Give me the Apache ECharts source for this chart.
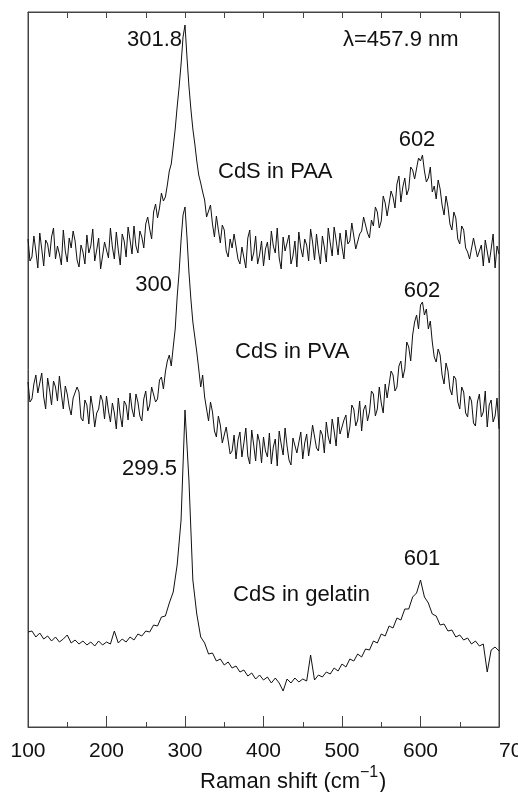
<!DOCTYPE html>
<html>
<head>
<meta charset="utf-8">
<title>CdS Raman spectra</title>
<script src="https://cdn.jsdelivr.net/npm/echarts@6/dist/echarts.min.js"></script>
<style>
  html, body { margin: 0; padding: 0; background: #fff; }
  #ramanChart { width: 518px; height: 792px; }
</style>
</head>
<body>
<!-- chart start -->
<div id="ramanChart"></div>
<!-- chart end -->
<script>
// x ticks (Raman shift, cm-1)
const xTicks = [100, 200, 300, 400, 500, 600, 700]

// sampling grids: noisy spectra every 2.5 cm-1, gelatin every 5 cm-1
const shiftFine = []
for (let x = 100; x <= 700; x += 2.5) shiftFine.push(x)
const shiftCoarse = []
for (let x = 100; x <= 700; x += 5) shiftCoarse.push(x)

// intensities (arb. units, curves already offset)
const paa = [
  488, 466, 470, 491, 476, 459, 494, 478, 461, 487, 483, 470, 490, 499, 468, 481, 473, 462, 497, 476,
  465, 489, 479, 496, 486, 467, 460, 482, 475, 463, 492, 474, 481, 498, 466, 477, 489, 458, 471, 485,
  484, 469, 499, 480, 468, 495, 477, 462, 493, 486, 470, 500, 487, 473, 501, 481, 474, 496, 490, 479,
  503, 510, 498, 488, 515, 523, 509, 519, 534, 526, 530, 542, 556, 563, 580, 598, 620, 640, 663, 690,
  702, 670, 641, 618, 598, 583, 566, 552, 544, 535, 527, 510, 516, 522, 503, 490, 511, 497, 484, 502,
  497, 476, 470, 488, 479, 493, 494, 468, 463, 480, 482, 459, 489, 497, 466, 474, 491, 463, 472, 486,
  461, 478, 485, 467, 496, 481, 474, 499, 469, 458, 490, 476, 478, 492, 463, 471, 486, 460, 495, 479,
  470, 488, 482, 466, 498, 485, 467, 493, 476, 463, 491, 480, 465, 499, 484, 471, 500, 487, 472, 494,
  480, 468, 497, 483, 486, 504, 505, 478, 479, 493, 496, 510, 512, 494, 489, 507, 501, 520, 515, 499,
  506, 531, 524, 511, 512, 536, 530, 519, 543, 551, 525, 540, 549, 532, 538, 560, 557, 548, 546, 569,
  566, 572, 556, 545, 549, 560, 535, 541, 528, 547, 538, 522, 512, 531, 520, 503, 497, 515, 509, 488,
  483, 501, 497, 479, 475, 468, 466, 489, 490, 470, 472, 482, 461, 487, 486, 464, 478, 493, 459, 481,
  473
]
const pva = [
  345, 325, 328, 343, 352, 334, 336, 354, 330, 318, 349, 337, 322, 346, 340, 326, 351, 333, 318, 341,
  333, 320, 312, 329, 328, 340, 335, 309, 306, 327, 322, 303, 331, 319, 300, 314, 318, 332, 326, 308,
  331, 316, 305, 324, 314, 298, 329, 312, 300, 326, 322, 307, 334, 318, 310, 333, 325, 311, 306, 328,
  336, 316, 322, 340, 341, 325, 328, 347, 350, 338, 355, 366, 372, 361, 380, 398, 430, 455, 487, 512,
  520, 490, 455, 428, 405, 390, 375, 358, 340, 352, 330, 318, 306, 325, 315, 296, 290, 311, 302, 284,
  282, 300, 299, 273, 276, 292, 268, 287, 295, 270, 284, 299, 271, 263, 297, 282, 266, 293, 285, 264,
  290, 276, 270, 294, 263, 280, 288, 261, 296, 283, 272, 299, 281, 267, 262, 289, 290, 274, 276, 295,
  268, 284, 293, 271, 285, 302, 300, 279, 276, 297, 292, 274, 305, 290, 283, 308, 296, 281, 310, 293,
  291, 307, 312, 289, 300, 322, 318, 301, 307, 326, 296, 317, 322, 306, 315, 336, 333, 311, 318, 340,
  324, 314, 343, 329, 331, 356, 352, 336, 340, 361, 366, 349, 358, 385, 380, 366, 392, 405, 412, 398,
  422, 425, 412, 418, 398, 406, 385, 370, 365, 378, 372, 352, 343, 364, 356, 338, 332, 351, 348, 325,
  318, 340, 335, 314, 310, 331, 326, 304, 301, 325, 333, 310, 315, 336, 300, 322, 327, 305, 311, 329,
  298
]
const gelatin = [
  95, 96, 90, 94, 88, 91, 86, 90, 85, 88, 92, 84, 87, 83, 86, 82, 85, 81, 86, 82,
  85, 83, 96, 84, 88, 85, 90, 87, 93, 91, 96, 95, 102, 101, 110, 111, 124, 135, 162, 207,
  317, 247, 147, 113, 90, 84, 73, 74, 66, 68, 62, 65, 59, 61, 55, 57, 51, 54, 48, 52,
  47, 50, 44, 49, 44, 36, 48, 44, 49, 45, 48, 46, 72, 47, 52, 50, 55, 53, 59, 56,
  63, 60, 68, 66, 73, 70, 78, 77, 86, 84, 93, 91, 101, 99, 109, 107, 118, 118, 130, 134,
  147, 130, 124, 113, 111, 102, 103, 96, 97, 90, 92, 87, 89, 83, 86, 81, 83, 55, 77, 80,
  76
]

const FONT = '"Liberation Sans", Arial, sans-serif'
const INK = '#111'
const FRAME = '#444'

function toPairs (xs, ys) {
  return ys.map((y, i) => [xs[i], y])
}

function lineSeries (name, xs, ys) {
  return {
    name: name,
    type: 'line',
    data: toPairs(xs, ys),
    showSymbol: false,
    smooth: false,
    lineStyle: { color: INK, width: 1 },
    emphasis: { disabled: true },
    animation: false
  }
}

// text on the plot (peaks, sample names, laser line)
function note (text, x, y, align, size) {
  return {
    type: 'text',
    x: x,
    y: y,
    silent: true,
    style: {
      text: text,
      fill: INK,
      font: (size || 22) + 'px ' + FONT,
      textAlign: align || 'left',
      verticalAlign: 'middle'
    }
  }
}

const option = {
  backgroundColor: '#fff',
  animation: false,
  grid: {
    left: 28,
    right: 19,
    top: 12,
    bottom: 65,
    outerBoundsMode: 'none',
    containLabel: false,
    show: true,
    borderColor: FRAME,
    borderWidth: 1
  },
  xAxis: [
    {
      type: 'value',
      position: 'bottom',
      min: xTicks[0],
      max: xTicks[xTicks.length - 1],
      interval: 100,
      axisLine: { show: true, onZero: false, lineStyle: { color: FRAME, width: 1 } },
      axisTick: { show: true, inside: true, length: 11, lineStyle: { color: FRAME, width: 1 } },
      minorTick: { show: true, splitNumber: 2, length: 5, lineStyle: { color: FRAME, width: 1 } },
      splitLine: { show: false },
      axisLabel: {
        color: INK,
        fontSize: 21,
        fontFamily: FONT,
        margin: 14,
        alignMaxLabel: 'left'
      }
    },
    {
      // mirrored ticks along the top edge
      type: 'value',
      position: 'top',
      min: xTicks[0],
      max: xTicks[xTicks.length - 1],
      interval: 100,
      axisLine: { show: true, onZero: false, lineStyle: { color: FRAME, width: 1 } },
      axisTick: { show: true, inside: true, length: 6, lineStyle: { color: FRAME, width: 1 } },
      minorTick: { show: true, splitNumber: 2, length: 6, lineStyle: { color: FRAME, width: 1 } },
      splitLine: { show: false },
      axisLabel: { show: false }
    }
  ],
  yAxis: [
    {
      type: 'value',
      position: 'left',
      min: 0,
      max: 715,
      axisLine: { show: true, onZero: false, lineStyle: { color: FRAME, width: 1 } },
      axisTick: { show: false },
      axisLabel: { show: false },
      splitLine: { show: false }
    },
    {
      type: 'value',
      position: 'right',
      min: 0,
      max: 715,
      axisLine: { show: true, onZero: false, lineStyle: { color: FRAME, width: 1 } },
      axisTick: { show: false },
      axisLabel: { show: false },
      splitLine: { show: false }
    }
  ],
  series: [
    lineSeries('CdS in PAA', shiftFine, paa),
    lineSeries('CdS in PVA', shiftFine, pva),
    lineSeries('CdS in gelatin', shiftCoarse, gelatin)
  ],
  graphic: [
    note('301.8', 182, 40, 'right'),
    note('λ=457.9 nm', 343, 40),
    note('602', 417, 140, 'center'),
    note('CdS in PAA', 218, 172),
    note('300', 172, 285, 'right'),
    note('602', 422, 291, 'center'),
    note('CdS in PVA', 235, 352),
    note('299.5', 177, 469, 'right'),
    note('601', 422, 559, 'center'),
    note('CdS in gelatin', 233, 595),
    // axis title, with the superscript as its own piece
    note('Raman shift (cm', 200, 782),
    note('−1', 360, 773, 'left', 16),
    note(')', 379, 782)
  ]
}

const myChart = echarts.init(document.getElementById('ramanChart'), null, { renderer: 'canvas' })
myChart.setOption(option)
</script>
</body>
</html>
